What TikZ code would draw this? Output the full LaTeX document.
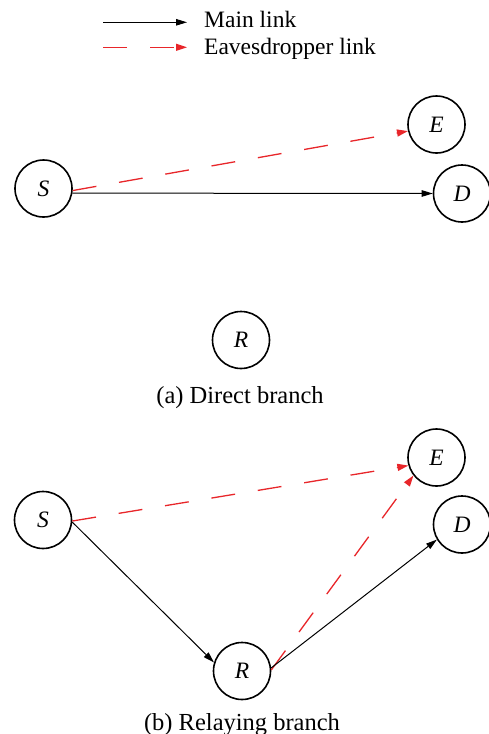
\documentclass[tikz,border=0pt]{standalone}
\usepackage{fontspec}
\setmainfont{Liberation Serif}
\usetikzlibrary{arrows.meta}
\definecolor{evered}{RGB}{232,38,42}
\begin{document}
\begin{tikzpicture}[x=1pt,y=-1pt,
  nodecirc/.style={circle,draw=black,line width=1.6pt,minimum size=57pt,inner sep=0pt,
    font=\fontsize{23.5}{27}\selectfont\itshape},
  mainlink/.style={draw=black,line width=1pt,-{Triangle[length=11pt,width=6.5pt]}},
  evelink/.style={draw=evered,line width=1.3pt,dash pattern=on 24pt off 23pt,
    -{Triangle[length=11pt,width=7pt]}},
  captxt/.style={font=\fontsize{24.5}{28}\selectfont,anchor=base,inner sep=0pt},
  legtxt/.style={font=\fontsize{23.5}{28}\selectfont,anchor=base west,inner sep=0pt}]
\useasboundingbox (0,0) rectangle (489,734);
% legend
\coordinate (l1s) at (103,22.3);
\coordinate (l1e) at (187,22.3);
\coordinate (l2s) at (103,47.3);
\coordinate (l2e) at (187,47.3);
\draw[mainlink] (l1s) -- (l1e);
\draw[evelink] (l2s) -- (l2e);
\node[legtxt] (lt1) at (204,27.5) {Main link};
\node[legtxt] (lt2) at (204,54) {Eavesdropper link};
% (a) direct branch
\node[nodecirc] (S) at (43.5,188.5) {S};
\node[nodecirc] (E) at (436.5,124.5) {E};
\node[nodecirc] (D) at (462,193.5) {D};
\node[nodecirc] (R) at (241,340) {R};
\draw[mainlink] (S.-9) -- (D.180);
\draw[evelink] (S.-4) -- (E.193);
\node[captxt] (capa) at (240,403) {(a) Direct branch};
% (b) relaying branch
\node[nodecirc] (S2) at (43,520) {S};
\node[nodecirc] (E2) at (436.5,457.5) {E};
\node[nodecirc] (D2) at (462,524.5) {D};
\node[nodecirc] (R2) at (242,671) {R};
\draw[evelink] (S2.-2) -- (E2.196);
\draw[mainlink] (S2.-4) -- (R2.163);
\draw[evelink] (R2.2) -- (E2.218);
\draw[mainlink] (R2.6) -- (D2.211);
\node[captxt] (capb) at (242,730) {(b) Relaying branch};
\end{tikzpicture}
\end{document}
